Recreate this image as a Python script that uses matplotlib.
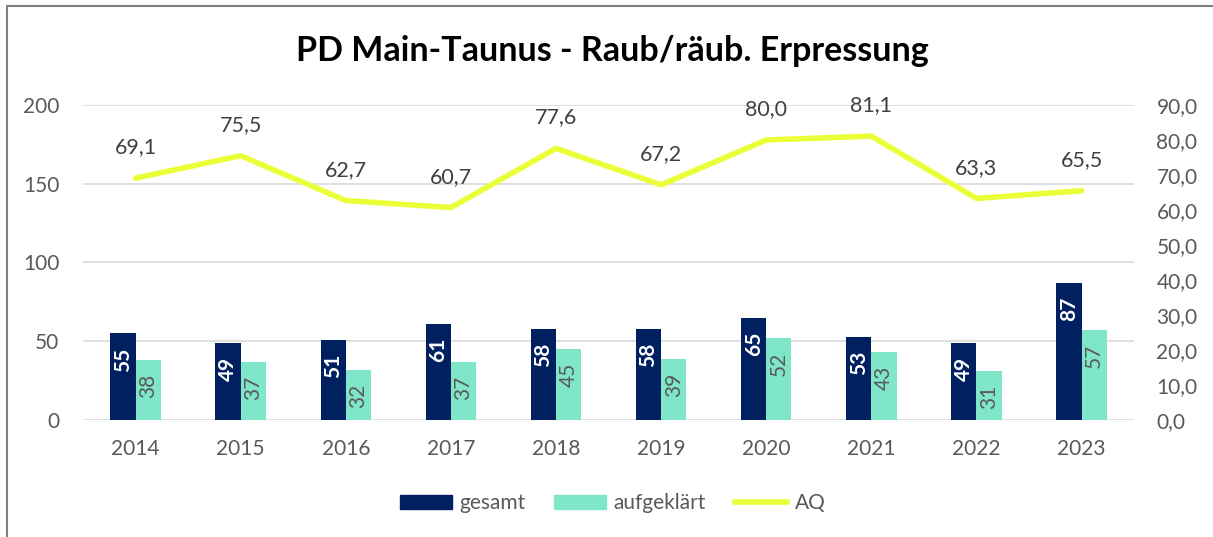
import numpy as np
import matplotlib.pyplot as plt
from matplotlib.patches import Rectangle, Patch
from matplotlib.lines import Line2D

plt.rcParams['font.family'] = ['Lato', 'DejaVu Sans']

years = ['2014', '2015', '2016', '2017', '2018', '2019', '2020', '2021', '2022', '2023']
gesamt = [55, 49, 51, 61, 58, 58, 65, 53, 49, 87]
aufgeklaert = [38, 37, 32, 37, 45, 39, 52, 43, 31, 57]
aq = [69.1, 75.5, 62.7, 60.7, 77.6, 67.2, 80.0, 81.1, 63.3, 65.5]

navy = '#002060'
aqua = '#80E6C9'
yellow = '#EAFF38'
grey = '#595959'

fig = plt.figure(figsize=(12.13, 5.37), dpi=100)
ax = fig.add_axes([0.0684, 0.2179, 0.8666, 0.5866])
ax2 = ax.twinx()

x = np.arange(len(years))
w = 0.24
b1 = ax.bar(x - w / 2, gesamt, w, color=navy, zorder=3)
b2 = ax.bar(x + w / 2, aufgeklaert, w, color=aqua, zorder=3)

# labels inside the bar ends
for rect, v in zip(b1, gesamt):
    ax.annotate(str(v), (rect.get_x() + rect.get_width() / 2, v), xytext=(0, -10),
                textcoords='offset points', rotation=90, ha='center', va='top',
                color='white', fontsize=15, fontweight='bold', zorder=4)
for rect, v in zip(b2, aufgeklaert):
    ax.annotate(str(v), (rect.get_x() + rect.get_width() / 2, v), xytext=(0, -10),
                textcoords='offset points', rotation=90, ha='center', va='top',
                color=grey, fontsize=15, zorder=4)

ax.set_ylim(0, 200)
ax.set_yticks([0, 50, 100, 150, 200])
ax.set_xlim(-0.5, len(years) - 0.5)
ax.set_xticks(x)
ax.set_xticklabels(years)
ax.grid(axis='y', color='#D9D9D9', linewidth=1.2, zorder=0)
ax.set_axisbelow(True)

ax2.plot(x, aq, color=yellow, linewidth=4, solid_capstyle='round', zorder=5)
for xi, v in zip(x, aq):
    ax2.annotate(f'{v:.1f}'.replace('.', ','), (xi, v), xytext=(0, 15),
                 textcoords='offset points', ha='center', va='bottom',
                 color='#404040', fontsize=15.5)
ax2.set_ylim(0, 90)
ax2.set_yticks(np.arange(0, 91, 10))
ax2.set_yticklabels([f'{t},0' for t in range(0, 91, 10)])

for a in (ax, ax2):
    for s in a.spines.values():
        s.set_visible(False)
    a.tick_params(length=0, labelsize=15, colors=grey)
ax.tick_params(axis='x', pad=14)
ax.tick_params(axis='y', pad=17)
ax2.tick_params(axis='y', pad=16)

fig.text(0.505, 0.905, 'PD Main-Taunus - Raub/räub. Erpressung', ha='center', va='center',
         fontsize=24.5, fontweight='bold', color='black')

handles = [Patch(color=navy), Patch(color=aqua), Line2D([0], [0], color=yellow, linewidth=4)]
fig.legend(handles, ['gesamt', 'aufgeklärt', 'AQ'], loc='center', bbox_to_anchor=(0.505, 0.063),
           ncol=3, frameon=False, fontsize=15, labelcolor=grey, handlelength=2.5,
           handleheight=0.7, columnspacing=1.4, handletextpad=0.35)

fig.patches.append(Rectangle((7 / 1213, -0.1), 1.2, 1 - 6 / 537 + 0.1, transform=fig.transFigure,
                             fill=False, edgecolor='#7F7F7F', linewidth=1.5))

fig.savefig('out.png', dpi=100)
